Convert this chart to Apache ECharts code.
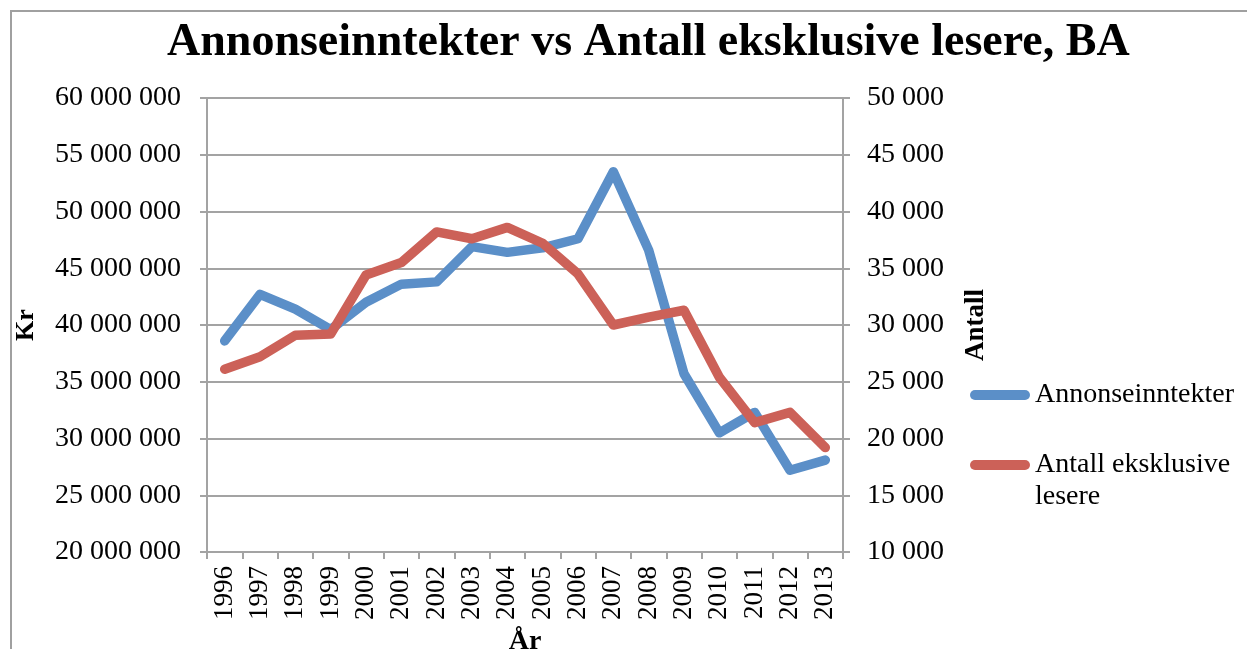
<!DOCTYPE html>
<html lang="nb">
<head>
    <meta charset="UTF-8">
    <title>Annonseinntekter vs Antall eksklusive lesere, BA</title>
    <style>
        * { margin: 0; padding: 0; }
        body { background: #fff; }
        #chart-container { width: 1247px; height: 649px; }
    </style>
</head>
<body>
    <div id="chart-container"></div>
    <script src="https://cdn.jsdelivr.net/npm/echarts@6/dist/echarts.min.js"></script>
    <script>
        // data
        var years = ['1996', '1997', '1998', '1999', '2000', '2001', '2002', '2003', '2004',
                     '2005', '2006', '2007', '2008', '2009', '2010', '2011', '2012', '2013'];
        var annonseinntekter = [38600000, 42700000, 41400000, 39600000, 42000000, 43600000,
                                43800000, 46900000, 46400000, 46800000, 47600000, 53500000,
                                46600000, 35700000, 30500000, 32300000, 27200000, 28100000];
        var lesere = [26100, 27200, 29100, 29200, 34400, 35500, 38200, 37600, 38600,
                      37200, 34500, 30000, 30700, 31300, 25400, 21400, 22300, 19200];

        var serif = '"Liberation Serif", "DejaVu Serif", serif';
        var gridColor = '#a3a3a3';
        var blue = '#5b8fc8';
        var red = '#cc6158';

        function spaced(v) {
            return String(v).replace(/\B(?=(\d{3})+(?!\d))/g, ' ');
        }

        var dom = document.getElementById('chart-container');
        var myChart = echarts.init(dom, null, { renderer: 'canvas' });

        var capsule = 'path://M5,0 L55,0 A5,5 0 0 1 55,10 L5,10 A5,5 0 0 1 5,0 Z';

        var option = {
            animation: false,
            backgroundColor: '#fff',
            title: {
                text: 'Annonseinntekter vs Antall eksklusive lesere, BA',
                left: 167,
                top: 20,
                padding: 0,
                textStyle: { fontFamily: serif, fontSize: 46, fontWeight: 'bold', color: '#000' }
            },
            graphic: [{
                type: 'polyline',
                silent: true,
                shape: { points: [[11, 649], [11, 11], [1247, 11]] },
                style: { stroke: '#a0a0a0', lineWidth: 2, fill: null }
            }],
            legend: [{
                data: ['Annonseinntekter'],
                orient: 'vertical',
                left: 970,
                top: 379,
                padding: 0,
                itemWidth: 60,
                itemHeight: 10,
                icon: capsule,
                textStyle: { fontFamily: serif, fontSize: 28, lineHeight: 32, color: '#000' }
            }, {
                data: ['Antall eksklusive lesere'],
                orient: 'vertical',
                left: 970,
                top: 417,
                padding: 0,
                itemWidth: 60,
                itemHeight: 10,
                icon: capsule,
                // empty first line so the first text line sits level with the icon
                formatter: function () { return '\u00a0\nAntall eksklusive\nlesere'; },
                textStyle: { fontFamily: serif, fontSize: 28, lineHeight: 32, color: '#000' }
            }],
            grid: { left: 207, right: 404, top: 98, bottom: 97, containLabel: false, outerBoundsMode: 'none' },
            xAxis: {
                type: 'category',
                data: years,
                boundaryGap: true,
                name: 'År',
                nameLocation: 'middle',
                nameGap: 76,
                nameTextStyle: { fontFamily: serif, fontSize: 28, fontWeight: 'bold', color: '#000' },
                axisLine: { lineStyle: { color: gridColor, width: 2 } },
                axisTick: { show: true, length: 7, alignWithLabel: false, lineStyle: { color: gridColor, width: 2 } },
                axisLabel: { rotate: 90, margin: 14, fontFamily: serif, fontSize: 27, color: '#000' },
                splitLine: { show: false }
            },
            yAxis: [{
                type: 'value',
                min: 20000000,
                max: 60000000,
                interval: 5000000,
                name: 'Kr',
                nameLocation: 'middle',
                nameRotate: 90,
                nameGap: 168,
                nameTextStyle: { fontFamily: serif, fontSize: 26, fontWeight: 'bold', color: '#000' },
                axisLine: { show: true, lineStyle: { color: gridColor, width: 2 } },
                axisTick: { show: true, length: 7, lineStyle: { color: gridColor, width: 2 } },
                axisLabel: { margin: 26, fontFamily: serif, fontSize: 28, color: '#000', formatter: spaced },
                splitLine: { lineStyle: { color: gridColor, width: 2 } }
            }, {
                type: 'value',
                min: 10000,
                max: 50000,
                interval: 5000,
                name: 'Antall',
                nameLocation: 'middle',
                nameRotate: 90,
                nameGap: 120,
                nameTextStyle: { fontFamily: serif, fontSize: 27, fontWeight: 'bold', color: '#000' },
                axisLine: { show: true, lineStyle: { color: gridColor, width: 2 } },
                axisTick: { show: true, length: 7, lineStyle: { color: gridColor, width: 2 } },
                axisLabel: { margin: 24, fontFamily: serif, fontSize: 28, color: '#000', formatter: spaced },
                splitLine: { show: false }
            }],
            series: [{
                name: 'Annonseinntekter',
                type: 'line',
                yAxisIndex: 0,
                data: annonseinntekter,
                showSymbol: false,
                color: blue,
                lineStyle: { width: 9.5, color: blue, cap: 'round', join: 'round' }
            }, {
                name: 'Antall eksklusive lesere',
                type: 'line',
                yAxisIndex: 1,
                data: lesere,
                showSymbol: false,
                color: red,
                lineStyle: { width: 9.5, color: red, cap: 'round', join: 'round' }
            }]
        };

        myChart.setOption(option);
        window.addEventListener('resize', myChart.resize);
    </script>
</body>
</html>
